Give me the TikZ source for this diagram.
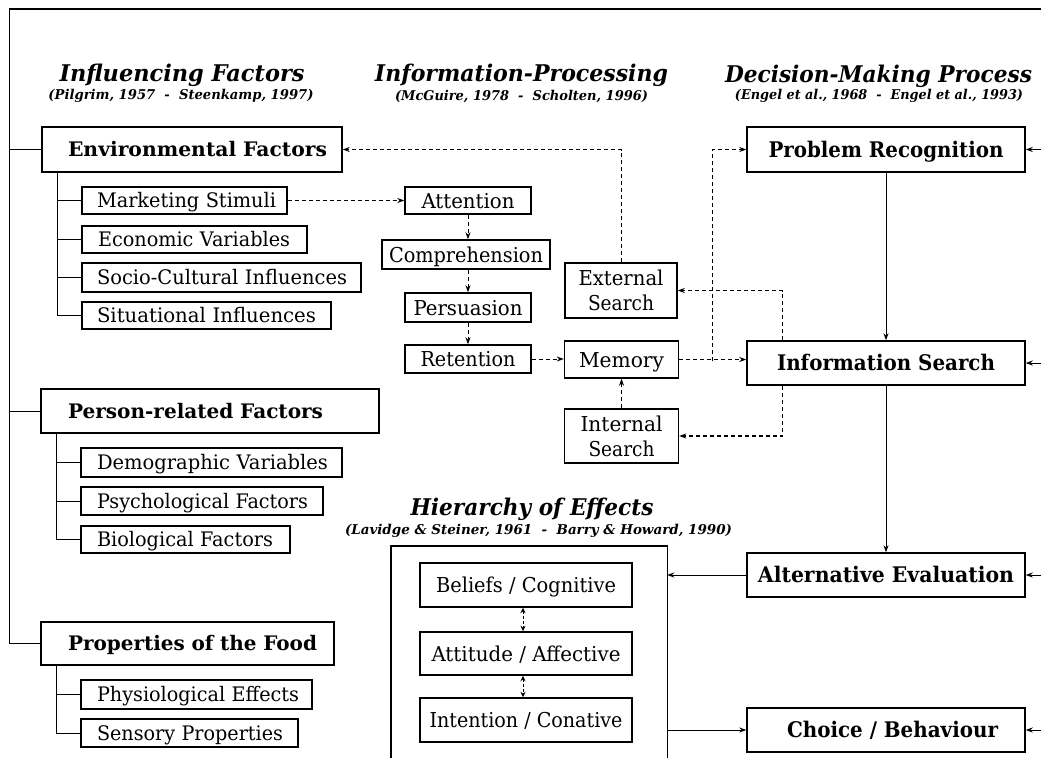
\documentclass[tikz,border=0pt]{standalone}
\usepackage{fontspec}
\usepackage{graphicx}
\setmainfont{DejaVu Serif}
\usetikzlibrary{arrows.meta,calc}
% set a text to a given width (in pt), keeping its natural height
\newcommand\fitw[2]{\resizebox{#1pt}{\height}{#2}}

\begin{document}
\begin{tikzpicture}[x=1pt,y=-1pt,
  boxline/.style={line width=1.4pt},
  lmain/.style={draw, boxline, inner sep=0pt, align=left,
    font=\fontsize{20}{23}\selectfont\bfseries, text height=14.6pt, text depth=0pt},
  lsub/.style={draw, boxline, inner sep=0pt, align=left,
    font=\fontsize{20}{23}\selectfont, text height=14.6pt, text depth=0pt},
  cbox/.style={draw, boxline, inner sep=0pt,
    font=\fontsize{20.5}{23}\selectfont, text height=15pt, text depth=0pt},
  twoline/.style={draw, boxline, inner sep=0pt, align=center,
    font=\fontsize{20.5}{25}\selectfont},
  dbox/.style={draw, boxline, inner sep=0pt, minimum width=278pt,
    font=\fontsize{21.5}{25}\selectfont\bfseries, text height=15.7pt, text depth=0pt},
  heading/.style={inner sep=0pt, font=\fontsize{23}{27}\selectfont\bfseries\itshape,
    text height=16.8pt, text depth=0pt},
  source/.style={inner sep=0pt, font=\fontsize{13.5}{16}\selectfont\bfseries\itshape},
  link/.style={line width=1pt},
  arr/.style={line width=1pt, -{Stealth[length=7pt,width=5pt]}},
  darr/.style={arr, dash pattern=on 4pt off 3pt},
  ddarr/.style={line width=1pt, dash pattern=on 3pt off 2pt,
    {Stealth[length=5.5pt,width=5pt]}-{Stealth[length=5.5pt,width=5pt]}},
]
\useasboundingbox (0,0) rectangle (1041,758);

% ---------- headings ----------
\node[heading] (hIF) at (182,73.5) {\fitw{245}{Influencing Factors}};
\node[source]  (sIF) at (181,96) {\fitw{265}{(Pilgrim, 1957\ \ -\ \ Steenkamp, 1997)}};
\node[heading] (hIP) at (521.5,73.5) {\fitw{293}{Information-Processing}};
\node[source]  (sIP) at (521.5,96) {\fitw{253}{(McGuire, 1978\ \ -\ \ Scholten, 1996)}};
\node[heading] (hDM) at (878.5,74) {\fitw{307}{Decision-Making Process}};
\node[source]  (sDM) at (879,96) {\fitw{288}{(Engel et al., 1968\ \ -\ \ Engel et al., 1993)}};
\node[heading] (hHE) at (532,507.5) {\fitw{243}{Hierarchy of Effects}};
\node[source]  (sHE) at (538.5,531) {\fitw{387}{(Lavidge \& Steiner, 1961\ \ -\ \ Barry \& Howard, 1990)}};

% ---------- influencing factors ----------
\node[lmain, text width=300pt, minimum height=45pt] (env) at (192,149.5)
  {\noindent\hspace*{26pt}\fitw{259}{Environmental Factors}};
\node[lsub, text width=205pt, minimum height=27pt] (mkt) at (184.5,200.5)
  {\noindent\hspace*{15pt}\fitw{179}{Marketing Stimuli}};
\node[lsub, text width=225pt, minimum height=27pt] (eco) at (194.5,239.5)
  {\noindent\hspace*{16pt}\fitw{192}{Economic Variables}};
\node[lsub, text width=279pt, minimum height=29pt] (soc) at (221.5,277.5)
  {\noindent\hspace*{15pt}\fitw{250}{Socio-Cultural Influences}};
\node[lsub, text width=249pt, minimum height=27pt] (sit) at (206.5,315.5)
  {\noindent\hspace*{15pt}\fitw{219}{Situational Influences}};

\node[lmain, text width=338pt, minimum height=44pt] (per) at (210,411)
  {\noindent\hspace*{27pt}\fitw{255}{Person-related Factors}};
\node[lsub, text width=261pt, minimum height=29pt] (dem) at (211.5,462.5)
  {\noindent\hspace*{16pt}\fitw{231}{Demographic Variables}};
\node[lsub, text width=242pt, minimum height=28pt] (psy) at (202,501)
  {\noindent\hspace*{16pt}\fitw{211}{Psychological Factors}};
\node[lsub, text width=209pt, minimum height=27pt] (bio) at (185.5,539.5)
  {\noindent\hspace*{16pt}\fitw{176}{Biological Factors}};

\node[lmain, text width=293pt, minimum height=43pt] (food) at (187.5,643.5)
  {\noindent\hspace*{27pt}\fitw{249}{Properties of the Food}};
\node[lsub, text width=231pt, minimum height=29pt] (phy) at (196.5,694.5)
  {\noindent\hspace*{16pt}\fitw{202}{Physiological Effects}};
\node[lsub, text width=217pt, minimum height=28pt] (sen) at (189.5,733)
  {\noindent\hspace*{16pt}\fitw{186}{Sensory Properties}};

% ---------- information processing ----------
\node[cbox, minimum width=126pt, minimum height=27pt] (att)  at (468,200.5) {\fitw{93}{Attention}};
\node[cbox, minimum width=168pt, minimum height=29pt] (com)  at (466,254.5) {\fitw{154}{Comprehension}};
\node[cbox, minimum width=126pt, minimum height=29pt] (pers) at (468,307.5) {\fitw{109}{Persuasion}};
\node[cbox, minimum width=126pt, minimum height=28pt] (ret)  at (468,359) {\fitw{95}{Retention}};
\node[twoline, minimum width=112pt, minimum height=55pt] (ext) at (621,290.5)
  {\fitw{85}{External}\\\fitw{66}{Search}};
\node[cbox, minimum width=114pt, minimum height=37pt] (mem) at (621.5,359.5) {\fitw{85}{Memory}};
\node[twoline, minimum width=114pt, minimum height=54pt] (int) at (621.5,436)
  {\fitw{82}{Internal}\\\fitw{66}{Search}};

% ---------- decision-making process ----------
\node[dbox, minimum height=45pt] (pr) at (886,149.5) {\fitw{235}{Problem Recognition}};
\node[dbox, minimum height=44pt] (is) at (886,363) {\fitw{218}{Information Search}};
\node[dbox, minimum height=44pt] (ae) at (886,575) {\fitw{256}{Alternative Evaluation}};
\node[dbox, minimum height=44pt] (cb) at (886,730) {\hspace*{13pt}\fitw{211}{Choice / Behaviour}};

% ---------- hierarchy of effects ----------
\node[inner sep=0pt, minimum width=276pt, minimum height=212pt] (hoe) at (529,652) {};
\draw[boxline] (hoe.south west) -- (hoe.north west) -- (hoe.north east) -- (hoe.south east);
\node[cbox, minimum width=212pt, minimum height=44pt] (bel)   at (526,585) {\fitw{180}{Beliefs / Cognitive}};
\node[cbox, minimum width=212pt, minimum height=43pt] (atti)  at (526,653.5) {\fitw{189}{Attitude / Affective}};
\node[cbox, minimum width=212pt, minimum height=44pt] (inten) at (526,720) {\fitw{193}{Intention / Conative}};

% ---------- frame and tree lines ----------
\coordinate (tl) at (9,9);
\coordinate (tr) at (1041,9);
\coordinate (rx) at (1041,0);
\draw[line width=1.6pt] (tl) -- (tr);
\draw[link] (tl) |- (food.west);
\draw[link] (tl |- env.west) -- (env.west);
\draw[link] (tl |- per.west) -- (per.west);

\coordinate (envT)  at ([xshift=16pt]env.south west);
\coordinate (perT)  at ([xshift=16pt]per.south west);
\coordinate (foodT) at ([xshift=16pt]food.south west);
\draw[link] (envT) |- (sit.west);
\foreach \n in {mkt,eco,soc} \draw[link] (envT |- \n.west) -- (\n.west);
\draw[link] (perT) |- (bio.west);
\foreach \n in {dem,psy} \draw[link] (perT |- \n.west) -- (\n.west);
\draw[link] (foodT) |- (sen.west);
\draw[link] (foodT |- phy.west) -- (phy.west);

% ---------- information flows (dashed) ----------
\draw[darr] (mkt.east) -- (att.west);
\draw[darr] (att.south) -- (att.south |- com.north);
\draw[darr] (att.south |- com.south) -- (pers.north);
\draw[darr] (pers.south) -- (ret.north);
\draw[darr] (ret.east) -- (ret.east -| mem.west);
\draw[darr] (int.north) -- (mem.south);
\draw[darr] (ext.north) |- (env.east);
\coordinate (jn) at ($(mem.east)!0.5!(is.west)$);
\draw[darr] (mem.east) -- (mem.east -| is.west);
\draw[darr] (jn) |- (pr.west);
\coordinate (isU) at ([xshift=36pt]is.north west);
\coordinate (isD) at ([xshift=36pt]is.south west);
\draw[darr, line width=1.3pt] (isU) |- (ext.east);
\draw[darr, line width=1.3pt] (isD) |- (int.east);

% ---------- decision flows (solid) ----------
\draw[arr] (pr.south) -- (is.north);
\draw[arr] (is.south) -- (ae.north);
\draw[arr] (ae.west) -- (ae.west -| hoe.east);
\draw[arr] (cb.west -| hoe.east) -- (cb.west);
\foreach \n in {pr,is,ae,cb} \draw[arr] (rx |- \n.east) -- (\n.east);

% ---------- hierarchy links ----------
\draw[ddarr] ([xshift=-3pt]bel.south) -- ([xshift=-3pt]atti.north);
\draw[ddarr] ([xshift=-3pt]atti.south) -- ([xshift=-3pt]inten.north);
\end{tikzpicture}
\end{document}
